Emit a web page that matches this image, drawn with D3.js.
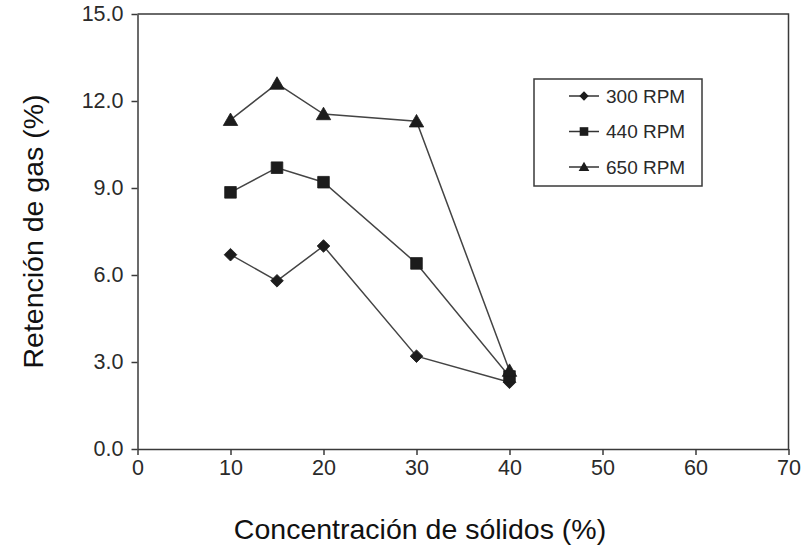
<!DOCTYPE html>
<html>
<head>
<meta charset="utf-8">
<script src="https://cdn.jsdelivr.net/npm/d3@7"></script>
<style>
  body { margin: 0; background: #fff; }
  svg { font-family: "Liberation Sans", Arial, sans-serif; }
</style>
</head>
<body>
<div id="chart"></div>
<script>
var w = 801,
	h = 548;

// data
var concentrations = [10, 15, 20, 30, 40];
var rpm300 = [6.7, 5.8, 7.0, 3.2, 2.3];
var rpm440 = [8.85, 9.7, 9.2, 6.4, 2.5];
var rpm650 = [11.35, 12.6, 11.55, 11.3, 2.7];
var seriesNames = ["300 RPM", "440 RPM", "650 RPM"];
var xTicks = [0, 10, 20, 30, 40, 50, 60, 70];
var yTicks = [0, 3, 6, 9, 12, 15];

var seriesValues = [rpm300, rpm440, rpm650];
var symbols = [d3.symbolSquare, d3.symbolSquare, d3.symbolTriangle];
var symSizes = [80, 135, 90];
var rotations = [45, 0, 0];

var margin = {left: 137.5, right: 12.5, top: 14, bottom: 99};

var svg = d3.select("#chart").append("svg")
	.attr("width", w)
	.attr("height", h);

var x = d3.scaleLinear().domain([0, 70]).range([margin.left, w - margin.right]);
var y = d3.scaleLinear().domain([0, 15]).range([h - margin.bottom, margin.top]);

// frame (top / right)
svg.append("path")
	.attr("d", "M" + x(0) + "," + y(15) + "H" + x(70) + "V" + y(0))
	.attr("fill", "none")
	.attr("stroke", "#3a3a3a")
	.attr("stroke-width", 1.5);

var xAxis = svg.append("g")
	.attr("transform", "translate(0," + y(0) + ")")
	.call(d3.axisBottom(x).tickValues(xTicks).tickSize(6).tickSizeOuter(0).tickPadding(5).tickFormat(d3.format("d")));

var yAxis = svg.append("g")
	.attr("transform", "translate(" + x(0) + ",0)")
	.call(d3.axisLeft(y).tickValues(yTicks).tickSize(6).tickSizeOuter(0).tickPadding(8).tickFormat(d3.format(".1f")));

[xAxis, yAxis].forEach(function(a) {
	a.select(".domain").attr("stroke", "#3a3a3a").attr("stroke-width", 1.5);
	a.selectAll(".tick line").attr("stroke", "#3a3a3a").attr("stroke-width", 1.5);
	a.selectAll(".tick text")
		.attr("font-size", "21.5px")
		.attr("font-family", "Liberation Sans, Arial, sans-serif")
		.attr("fill", "#2a2a2a");
});

// axis titles
svg.append("text")
	.attr("x", 420)
	.attr("y", 539)
	.attr("text-anchor", "middle")
	.attr("font-size", "28.5px")
	.attr("fill", "#111")
	.text("Concentración de sólidos (%)");

svg.append("text")
	.attr("transform", "translate(43," + ((y(0) + y(15)) / 2) + ") rotate(-90)")
	.attr("text-anchor", "middle")
	.attr("font-size", "28.5px")
	.attr("fill", "#111")
	.text("Retención de gas (%)");

var line = d3.line()
	.x(function(d, i) { return x(concentrations[i]); })
	.y(function(d) { return y(d); });

seriesValues.forEach(function(vals, s) {
	svg.append("path")
		.datum(vals)
		.attr("d", line)
		.attr("fill", "none")
		.attr("stroke", "#444")
		.attr("stroke-width", 1.5);
});

seriesValues.forEach(function(vals, s) {
	svg.selectAll(".pt" + s)
		.data(vals)
		.enter()
		.append("path")
		.attr("class", "pt" + s)
		.attr("transform", function(d, i) {
			var dy = s == 2 ? 1.5 : 0;
			return "translate(" + x(concentrations[i]) + "," + (y(d) + dy) + ") rotate(" + rotations[s] + ")";
		})
		.attr("d", d3.symbol().type(symbols[s]).size(symSizes[s]))
		.attr("fill", "#1c1c1c")
		.attr("stroke", "#1c1c1c")
		.attr("stroke-width", 0.8)
		.attr("stroke-linejoin", "round");
});

////// legend //////
var legend = svg.append("g").attr("class", "legend");

legend.append("rect")
	.attr("x", 534)
	.attr("y", 79)
	.attr("width", 168)
	.attr("height", 107)
	.attr("fill", "#fff")
	.attr("stroke", "#3a3a3a")
	.attr("stroke-width", 1.5);

var items = legend.selectAll(".item")
	.data(seriesNames)
	.enter()
	.append("g")
	.attr("class", "item")
	.attr("transform", function(d, i) { return "translate(0," + (96 + i * 35.5) + ")"; });

items.append("line")
	.attr("x1", 569)
	.attr("x2", 599)
	.attr("stroke", "#333")
	.attr("stroke-width", 1.5);

items.append("path")
	.attr("transform", function(d, i) { return "translate(584," + (i == 2 ? 1 : 0) + ") rotate(" + rotations[i] + ")"; })
	.attr("d", function(d, i) { return d3.symbol().type(symbols[i]).size(symSizes[i] * 0.55)(); })
	.attr("fill", "#1c1c1c");

items.append("text")
	.attr("x", 606)
	.attr("y", 0)
	.attr("dy", "0.35em")
	.attr("font-size", "19px")
	.attr("fill", "#2a2a2a")
	.text(function(d) { return d; });
</script>
</body>
</html>
